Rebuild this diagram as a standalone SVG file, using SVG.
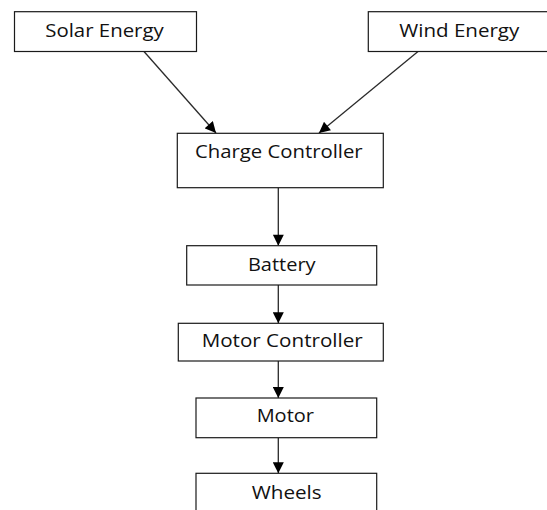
<svg xmlns="http://www.w3.org/2000/svg" width="547" height="510" viewBox="0 0 547 510">
<defs>
<style>
.box{fill:#fff;stroke:#1a1a1a;stroke-width:1.2}
.lbl{font-family:"Open Sans",Lato,"Liberation Sans",sans-serif;font-size:18.5px;font-weight:500;fill:#111;text-anchor:middle}
.con{stroke:#2a2a2a;stroke-width:1.3;fill:none;marker-end:url(#arr)}
</style>
<marker id="arr" viewBox="0 0 10 10" refX="10" refY="5" markerUnits="userSpaceOnUse" markerWidth="12" markerHeight="11" orient="auto">
<path d="M0,0 L10,5 L0,10 Z" fill="#000"/>
</marker>
</defs>
<rect width="547" height="510" fill="#fff"/>
<g id="connectors">
<line class="con" x1="144" y1="51.5" x2="216" y2="133"/>
<line class="con" x1="418" y1="51.5" x2="319" y2="133"/>
<line class="con" x1="278.3" y1="187.7" x2="278.3" y2="245.7"/>
<line class="con" x1="278.3" y1="285" x2="278.3" y2="323.3"/>
<line class="con" x1="278.3" y1="361" x2="278.3" y2="398"/>
<line class="con" x1="278.3" y1="437.7" x2="278.3" y2="473.3"/>
</g>
<g id="solar">
<rect class="box" x="14.5" y="11.7" width="182" height="39.8"/>
<text class="lbl" x="104.5" y="37.3" textLength="118.5" lengthAdjust="spacingAndGlyphs">Solar Energy</text>
</g>
<g id="wind">
<rect class="box" x="368.3" y="11.7" width="185" height="39.8"/>
<text class="lbl" x="459.3" y="36.5" textLength="120" lengthAdjust="spacingAndGlyphs">Wind Energy</text>
</g>
<g id="charge">
<rect class="box" x="177.3" y="133.3" width="206" height="54.4"/>
<text class="lbl" x="278.8" y="158.3" textLength="167.7" lengthAdjust="spacingAndGlyphs">Charge Controller</text>
</g>
<g id="battery">
<rect class="box" x="186.7" y="245.7" width="190" height="39.3"/>
<text class="lbl" x="281.8" y="270.7" textLength="67.7" lengthAdjust="spacingAndGlyphs">Battery</text>
</g>
<g id="motorcontroller">
<rect class="box" x="178.3" y="323.3" width="205" height="37.7"/>
<text class="lbl" x="282.2" y="346.7" textLength="161" lengthAdjust="spacingAndGlyphs">Motor Controller</text>
</g>
<g id="motor">
<rect class="box" x="196" y="398" width="180.7" height="39.7"/>
<text class="lbl" x="285.3" y="422.3" textLength="57.3" lengthAdjust="spacingAndGlyphs">Motor</text>
</g>
<g id="wheels">
<rect class="box" x="196" y="473.3" width="180.7" height="50"/>
<text class="lbl" x="286.7" y="499" textLength="70" lengthAdjust="spacingAndGlyphs">Wheels</text>
</g>
</svg>
